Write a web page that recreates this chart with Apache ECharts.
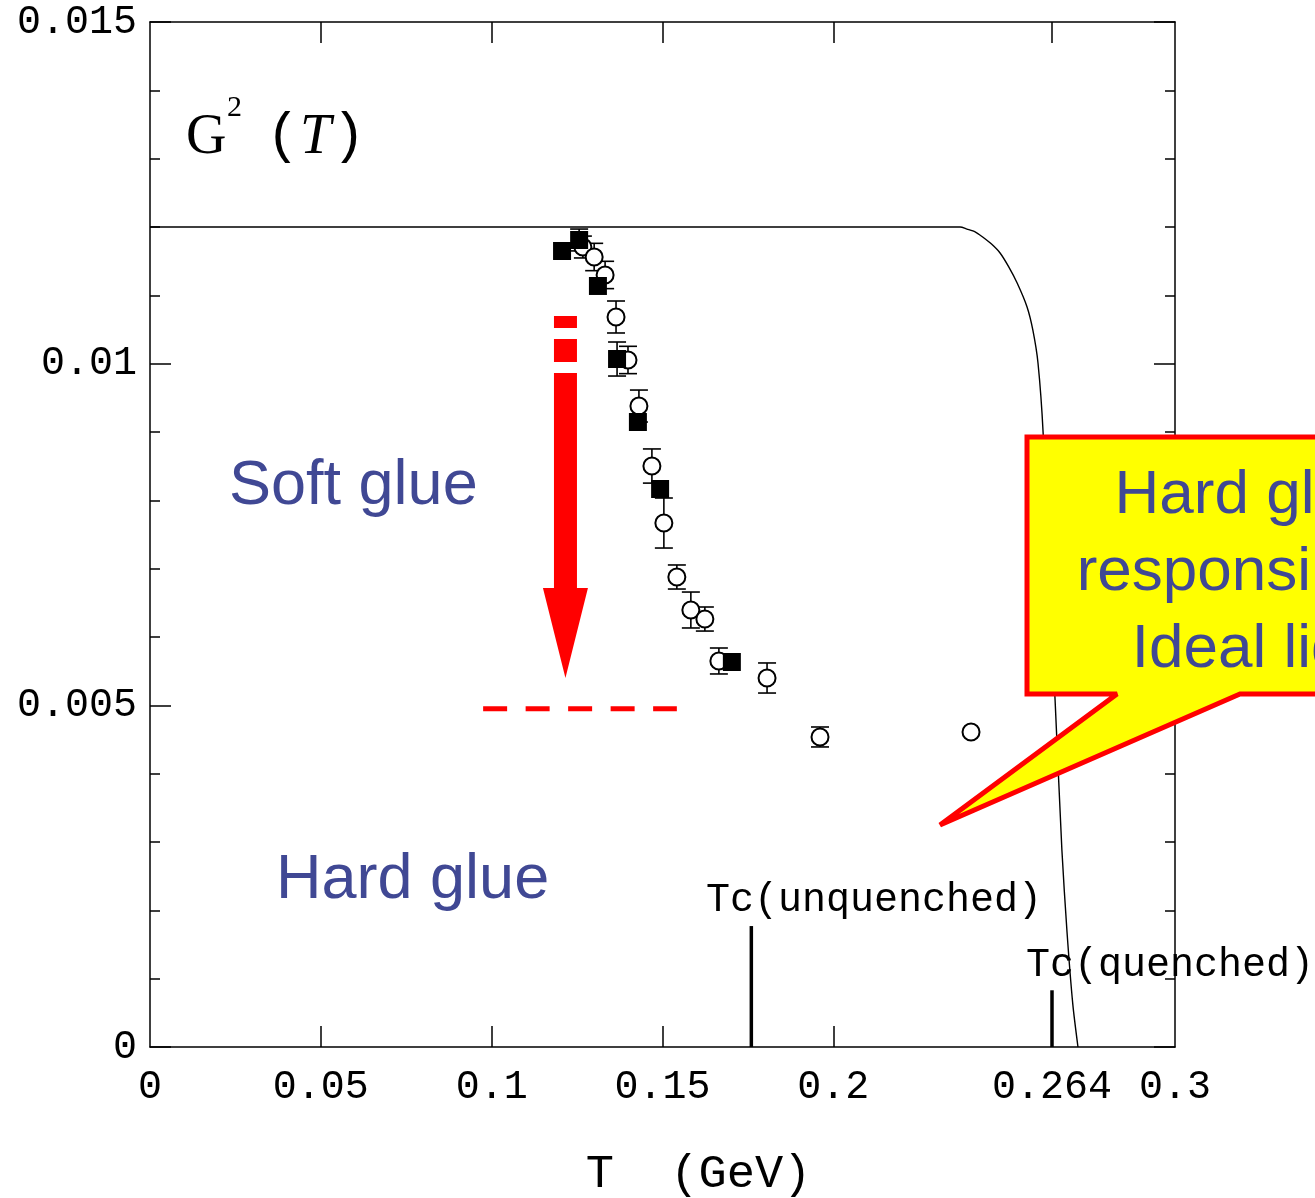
<!DOCTYPE html>
<html><head><meta charset="utf-8">
<script src="https://cdn.jsdelivr.net/npm/echarts@6/dist/echarts.min.js"></script>
<style>html,body{margin:0;padding:0;background:#fff}#c{width:1315px;height:1198px}</style>
</head><body><div id="c"></div>
<script>
// ---- data ----
const curveT = [0, 0.2371, 0.2391, 0.2415, 0.2438, 0.2463, 0.2488, 0.2513, 0.2538, 0.2567, 0.2584, 0.2599, 0.2614, 0.2622, 0.2636, 0.2649, 0.2669, 0.2684, 0.2701, 0.2716];
const curveG = [0.012, 0.01200, 0.01197, 0.01193, 0.01185, 0.01175, 0.01162, 0.01142, 0.01118, 0.01083, 0.01049, 0.01001, 0.00899, 0.00771, 0.0064, 0.00508, 0.00288, 0.00168, 0.00062, 0];

const circT   = [0.1267, 0.1300, 0.1332, 0.1364, 0.1399, 0.1431, 0.1469, 0.1504, 0.1542, 0.1583, 0.1624, 0.1665, 0.1806, 0.1961, 0.2403];
const circG   = [0.011707, 0.011561, 0.011298, 0.010683, 0.010054, 0.009380, 0.008502, 0.007668, 0.006878, 0.006395, 0.006263, 0.005649, 0.005400, 0.004537, 0.004610];
const circErr = [0.00016, 0.0002, 0.0002, 0.000234, 0.0002, 0.000234, 0.00025, 0.000366, 0.000176, 0.000263, 0.000176, 0.00019, 0.00022, 0.000146, 0];

const sqT   = [0.1206, 0.1256, 0.1311, 0.1367, 0.1428, 0.1493, 0.1703];
const sqG   = [0.011649, 0.011810, 0.011137, 0.010068, 0.009146, 0.008166, 0.005634];
const sqErr = [0, 0.00016, 0, 0.000249, 0, 0, 0];

const tcT = [0.176, 0.264];
const tcH = [0.00177, 0.00083];
const tcLabels = ['Tc(unquenched)', 'Tc(quenched)'];

const xLabelValues = [0, 0.05, 0.1, 0.15, 0.2, 0.264, 0.3];
const xTickBottom = [0.05, 0.1, 0.15, 0.2];
const xTickTop = [0.05, 0.1, 0.15, 0.2, 0.264];

// red annotation (soft -> hard glue)
const arrowT = [0.1216];
const arrowDashes = [[0.010698, 0.010522], [0.010361, 0.010024]];
const arrowShaft = [0.009863, 0.006717];
const arrowTip = [0.0054];
const levelT = [0.0975, 0.1542];
const levelG = [0.00495, 0.00495];

// ---- chart ----
const mono = "'Liberation Mono', 'Courier New', monospace";
const serif = "'Liberation Serif', 'Times New Roman', serif";
const sans = "'Liberation Sans', Arial, sans-serif";
const blue = '#404894';

const chart = echarts.init(document.getElementById('c'), null, {renderer: 'canvas'});

function errData(T, G, E) {
  const out = [];
  for (let i = 0; i < T.length; i++) if (E[i] > 0) out.push([T[i], G[i] - E[i], G[i] + E[i]]);
  return out;
}

const errRender = function (params, api) {
  const x = api.value(0), lo = api.value(1), hi = api.value(2);
  const a = api.coord([x, hi]), b = api.coord([x, lo]);
  const hw = 9;
  const st = {stroke: '#000', lineWidth: 1.6};
  return {type: 'group', children: [
    {type: 'line', shape: {x1: a[0], y1: a[1], x2: b[0], y2: b[1]}, style: st},
    {type: 'line', shape: {x1: a[0] - hw, y1: a[1], x2: a[0] + hw, y2: a[1]}, style: st},
    {type: 'line', shape: {x1: b[0] - hw, y1: b[1], x2: b[0] + hw, y2: b[1]}, style: st}
  ]};
};

const axisLine = {show: true, onZero: false, lineStyle: {color: '#000', width: 1.5}};

const option = {
  animation: false,
  backgroundColor: '#fff',
  grid: {left: 150, right: 140, top: 22, bottom: 151, containLabel: false, outerBoundsMode: 'none'},
  xAxis: [{
    type: 'value', min: 0, max: 0.3, interval: 0.05, position: 'bottom',
    name: 'T  (GeV)', nameLocation: 'middle', nameGap: 104,
    nameTextStyle: {fontFamily: mono, fontSize: 47, color: '#000', padding: [0, 0, 0, 72]},
    axisLine: axisLine,
    axisTick: {show: true, inside: true, length: 21, customValues: xTickBottom, lineStyle: {color: '#000', width: 1.5}},
    axisLabel: {show: true, customValues: xLabelValues, margin: 20, fontFamily: mono, fontSize: 40, color: '#000',
      formatter: v => String(+v.toFixed(3))},
    splitLine: {show: false}
  }, {
    type: 'value', min: 0, max: 0.3, interval: 0.05, position: 'top',
    axisLine: axisLine,
    axisTick: {show: true, inside: true, length: 21, customValues: xTickTop, lineStyle: {color: '#000', width: 1.5}},
    axisLabel: {show: false},
    splitLine: {show: false}
  }],
  yAxis: [{
    type: 'value', min: 0, max: 0.015, interval: 0.005, position: 'left',
    axisLine: axisLine,
    axisTick: {show: true, inside: true, length: 21, lineStyle: {color: '#000', width: 1.5}},
    minorTick: {show: true, splitNumber: 5, length: 10, lineStyle: {color: '#000', width: 1.5}},
    axisLabel: {show: true, margin: 13, fontFamily: mono, fontSize: 40, color: '#000',
      formatter: v => String(+v.toFixed(4))},
    splitLine: {show: false}
  }, {
    type: 'value', min: 0, max: 0.015, interval: 0.005, position: 'right',
    axisLine: axisLine,
    axisTick: {show: true, inside: true, length: 21, lineStyle: {color: '#000', width: 1.5}},
    minorTick: {show: true, splitNumber: 5, length: 10, lineStyle: {color: '#000', width: 1.5}},
    axisLabel: {show: false},
    splitLine: {show: false}
  }],
  series: [
    {
      type: 'line', name: 'curve', data: curveT.map((t, i) => [t, curveG[i]]),
      showSymbol: false, smooth: 0.25, lineStyle: {color: '#000', width: 1.4}, z: 2, silent: true
    },
    {
      type: 'custom', name: 'tc', data: tcT.map((t, i) => [t, tcH[i]]),
      renderItem: function (params, api) {
        const a = api.coord([api.value(0), 0]), b = api.coord([api.value(0), api.value(1)]);
        return {type: 'line', shape: {x1: a[0], y1: a[1], x2: b[0], y2: b[1]}, style: {stroke: '#000', lineWidth: 3.5}};
      }, z: 3
    },
    {
      type: 'line', name: 'level', data: levelT.map((t, i) => [t, levelG[i]]),
      showSymbol: false, lineStyle: {color: '#ff0000', width: 5, type: [24, 18.5], cap: 'butt'}, z: 3
    },
    {
      type: 'custom', name: 'arrow', data: arrowT.map(t => [t]),
      renderItem: function (params, api) {
        const t = api.value(0);
        const hw = 11.5, hh = 22.5;
        const ch = [];
        arrowDashes.forEach(d => {
          const p = api.coord([t, d[0]]), q = api.coord([t, d[1]]);
          ch.push({type: 'rect', shape: {x: p[0] - hw, y: p[1], width: hw * 2, height: q[1] - p[1]}, style: {fill: '#ff0000'}});
        });
        const s1 = api.coord([t, arrowShaft[0]]), s2 = api.coord([t, arrowShaft[1]]), tip = api.coord([t, arrowTip[0]]);
        ch.push({type: 'rect', shape: {x: s1[0] - hw, y: s1[1], width: hw * 2, height: s2[1] - s1[1] + 1}, style: {fill: '#ff0000'}});
        ch.push({type: 'polygon', shape: {points: [[s2[0] - hh, s2[1]], [s2[0] + hh, s2[1]], [tip[0], tip[1]]]}, style: {fill: '#ff0000'}});
        return {type: 'group', children: ch};
      }, z: 3
    },
    {
      type: 'custom', name: 'circErr', data: errData(circT, circG, circErr), renderItem: errRender, z: 4
    },
    {
      type: 'custom', name: 'sqErr', data: errData(sqT, sqG, sqErr), renderItem: errRender, z: 4
    },
    {
      type: 'scatter', name: 'circles', data: circT.map((t, i) => [t, circG[i]]),
      symbol: 'circle', symbolSize: 17,
      itemStyle: {color: '#fff', borderColor: '#000', borderWidth: 2, opacity: 1}, z: 5
    },
    {
      type: 'scatter', name: 'squares', data: sqT.map((t, i) => [t, sqG[i]]),
      symbol: 'rect', symbolSize: 18,
      itemStyle: {color: '#000', opacity: 1}, z: 6
    }
  ],
  graphic: [
    {type: 'text', x: 186, y: 138, style: {text: 'G', font: "56px " + serif, fill: '#000', verticalAlign: 'middle'}},
    {type: 'text', x: 227, y: 108, style: {text: '2', font: "30px " + serif, fill: '#000', verticalAlign: 'middle'}},
    {type: 'text', x: 266, y: 136, style: {text: '(', font: "56px " + mono, fill: '#000', verticalAlign: 'middle'}},
    {type: 'text', x: 300, y: 138, style: {text: 'T', font: "italic 56px " + serif, fill: '#000', verticalAlign: 'middle'}},
    {type: 'text', x: 332, y: 136, style: {text: ')', font: "56px " + mono, fill: '#000', verticalAlign: 'middle'}},

    {type: 'text', x: 706, y: 900, style: {text: tcLabels[0], font: "40px " + mono, fill: '#000', verticalAlign: 'middle'}},
    {type: 'text', x: 1026, y: 965, style: {text: tcLabels[1], font: "40px " + mono, fill: '#000', verticalAlign: 'middle'}},

    {type: 'text', x: 229, y: 487, style: {text: 'Soft glue', font: "63px " + sans, fill: blue, verticalAlign: 'middle'}},
    {type: 'text', x: 276, y: 881, style: {text: 'Hard glue', font: "63px " + sans, fill: blue, verticalAlign: 'middle'}},

    {type: 'polygon', z: 100,
      shape: {points: [[1027, 437], [1340, 437], [1340, 694], [1240, 694], [940, 825], [1117, 694], [1027, 694]]},
      style: {fill: '#ffff00', stroke: '#ff0000', lineWidth: 5, lineJoin: 'miter', miterLimit: 2}},
    {type: 'text', z: 101, x: 1280, y: 496, style: {text: 'Hard glue is', font: "62px " + sans, fill: blue, align: 'center', verticalAlign: 'middle'}},
    {type: 'text', z: 101, x: 1280, y: 573, style: {text: 'responsible for', font: "62px " + sans, fill: blue, align: 'center', verticalAlign: 'middle'}},
    {type: 'text', z: 101, x: 1280, y: 650, style: {text: 'Ideal liquid', font: "62px " + sans, fill: blue, align: 'center', verticalAlign: 'middle'}}
  ]
};
chart.setOption(option);
</script>
</body></html>
